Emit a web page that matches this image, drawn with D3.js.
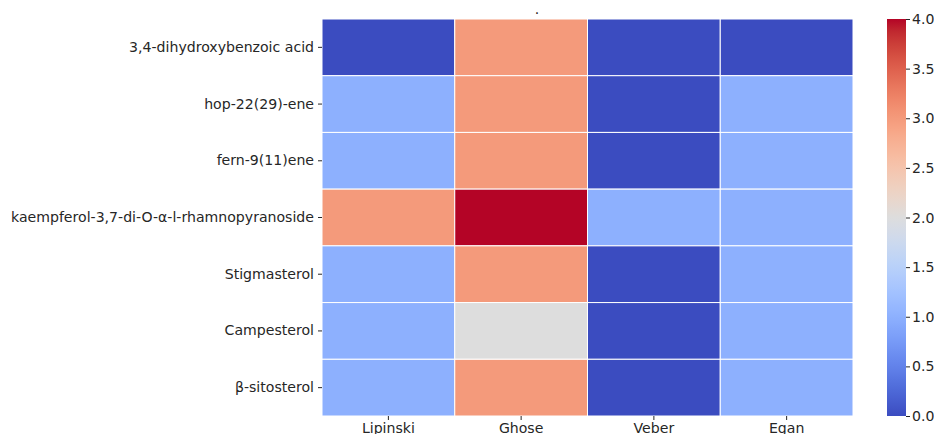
<!DOCTYPE html>
<html>
<head>
<meta charset="utf-8">
<script src="https://cdn.jsdelivr.net/npm/d3@7"></script>
<style>
  html, body { margin: 0; padding: 0; background: #fff; }
  svg { display: block; }
  text { font-family: "DejaVu Sans", sans-serif; fill: #262626; }
</style>
</head>
<body>
<svg id="chart" width="934" height="434"></svg>
<script>
// Compounds (rows) and drug-likeness rules (columns)
const compounds = [
  "3,4-dihydroxybenzoic acid",
  "hop-22(29)-ene",
  "fern-9(11)ene",
  "kaempferol-3,7-di-O-α-l-rhamnopyranoside",
  "Stigmasterol",
  "Campesterol",
  "β-sitosterol"
];
const rules = ["Lipinski", "Ghose", "Veber", "Egan"];

// Number of violations per rule, one array per rule
const lipinski = [0, 1, 1, 3, 1, 1, 1];
const ghose    = [3, 3, 3, 4, 3, 2, 3];
const veber    = [0, 0, 0, 1, 0, 0, 0];
const egan     = [0, 1, 1, 1, 1, 1, 1];

const colorbarTicks = [0.0, 0.5, 1.0, 1.5, 2.0, 2.5, 3.0, 3.5, 4.0];
const title = ".";

const seriesByRule = [lipinski, ghose, veber, egan];
const cells = [];
rules.forEach((r, j) => {
  compounds.forEach((c, i) => {
    cells.push({ rule: r, compound: c, value: seriesByRule[j][i] });
  });
});

// Diverging cool-warm colour map (blue -> grey -> red)
const coolwarmStops = [
  [59,76,192],[68,90,204],[77,104,215],[87,117,225],[98,130,234],[108,142,241],
  [119,154,247],[130,165,251],[141,176,254],[152,185,255],[163,194,255],[174,201,253],
  [184,208,249],[194,213,244],[204,217,238],[213,219,230],[221,221,221],[229,216,209],
  [236,211,197],[241,204,185],[245,196,173],[247,187,160],[247,177,148],[247,166,135],
  [244,154,123],[241,141,111],[236,127,99],[229,112,88],[222,96,77],[213,80,66],
  [203,62,56],[192,40,47],[180,4,38]
].map(c => d3.rgb(c[0], c[1], c[2]).toString());
const coolwarm = d3.piecewise(d3.interpolateRgb, coolwarmStops);

const vmin = 0, vmax = 4;
const color = d3.scaleSequential(coolwarm).domain([vmin, vmax]);

const svg = d3.select("#chart");
const plot = { left: 322, right: 853, top: 19, bottom: 416 };
const fontSize = "14.1px";

const x = d3.scaleBand().domain(rules).range([plot.left, plot.right]);
const y = d3.scaleBand().domain(compounds).range([plot.top, plot.bottom]);

// Heatmap cells
svg.append("g")
  .selectAll("rect")
  .data(cells)
  .join("rect")
  .attr("x", d => x(d.rule))
  .attr("y", d => y(d.compound))
  .attr("width", x.bandwidth())
  .attr("height", y.bandwidth())
  .attr("fill", d => color(d.value))
  .attr("stroke", "#fff")
  .attr("stroke-width", 1);

// Axes
const xAxis = svg.append("g")
  .attr("transform", `translate(0,${plot.bottom})`)
  .call(d3.axisBottom(x).tickSize(4).tickPadding(3));
const yAxis = svg.append("g")
  .attr("transform", `translate(${plot.left},0)`)
  .call(d3.axisLeft(y).tickSize(4).tickPadding(4));

[xAxis, yAxis].forEach(a => {
  a.select(".domain").remove();
  a.selectAll(".tick line").attr("stroke", "#262626").attr("stroke-width", 1);
  a.selectAll(".tick text")
    .style("font-family", "'DejaVu Sans', sans-serif")
    .style("font-size", fontSize)
    .attr("fill", "#262626");
});

// Title
svg.append("text")
  .attr("x", 537)
  .attr("y", 14)
  .attr("text-anchor", "middle")
  .style("font-size", fontSize)
  .text(title);

// Colour bar
const cb = { left: 887, width: 19, top: 19, bottom: 416 };
const defs = svg.append("defs");
const grad = defs.append("linearGradient")
  .attr("id", "cbgrad")
  .attr("x1", 0).attr("y1", 1).attr("x2", 0).attr("y2", 0);
d3.range(0, 1.0001, 1 / 64).forEach(t => {
  grad.append("stop")
    .attr("offset", t)
    .attr("stop-color", coolwarm(t));
});
svg.append("rect")
  .attr("x", cb.left)
  .attr("y", cb.top)
  .attr("width", cb.width)
  .attr("height", cb.bottom - cb.top)
  .attr("fill", "url(#cbgrad)");

const cScale = d3.scaleLinear().domain([vmin, vmax]).range([cb.bottom, cb.top]);
const cAxis = svg.append("g")
  .attr("transform", `translate(${cb.left + cb.width},0)`)
  .call(d3.axisRight(cScale).tickValues(colorbarTicks).tickFormat(d3.format(".1f")).tickSize(4).tickPadding(2));
cAxis.select(".domain").remove();
cAxis.selectAll(".tick line").attr("stroke", "#262626");
cAxis.selectAll(".tick text")
  .style("font-family", "'DejaVu Sans', sans-serif")
  .style("font-size", fontSize)
  .attr("fill", "#262626");
</script>
</body>
</html>
